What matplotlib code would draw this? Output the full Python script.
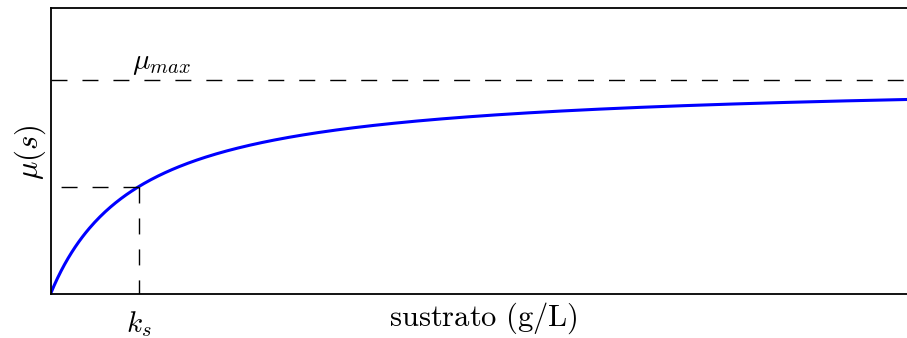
import matplotlib
matplotlib.use("Agg")
import matplotlib.pyplot as plt
import numpy as np

plt.rcParams['mathtext.fontset'] = 'cm'

# Monod parameters
mu_max = 1.0
ks = 1.0
s_max = 10.0
y_top = 4.0 / 3.0

s = np.linspace(0, s_max, 500)
mu = mu_max * s / (ks + s)

fig = plt.figure(figsize=(9.07, 3.38), dpi=100)
ax = fig.add_axes([50.5 / 907, 44 / 338, 880 / 907, 286 / 338])

dash = dict(color='black', lw=1, dashes=(11.5, 10.8))
ax.plot(s, mu, color='blue', lw=2.2)
ax.plot([0, s_max], [mu_max, mu_max], **dash)
ax.plot([ks, 0], [mu_max / 2, mu_max / 2], **dash)
ax.plot([ks, ks], [mu_max / 2, 0], **dash)

ax.text(0.93, mu_max + 0.01, r'$\mu_{max}$', fontsize=21, ha='left', va='bottom')

for sp in ax.spines.values():
    sp.set_linewidth(1.3)

ax.set_xlim(0, s_max)
ax.set_ylim(0, y_top)
ax.set_xticks([])
ax.set_yticks([])

ax.text(ks, -0.14, r'$k_s$', fontsize=21, ha='center', va='center')
fig.text(483 / 907, 1 - 318 / 338, r'$\mathrm{sustrato\ (g/L)}$', fontsize=22,
         ha='center', va='center')
fig.text(30 / 907, 1 - 152 / 338, r'$\mu(s)$', fontsize=22, rotation=90,
         ha='center', va='center')

fig.savefig('out.png', dpi=100)
